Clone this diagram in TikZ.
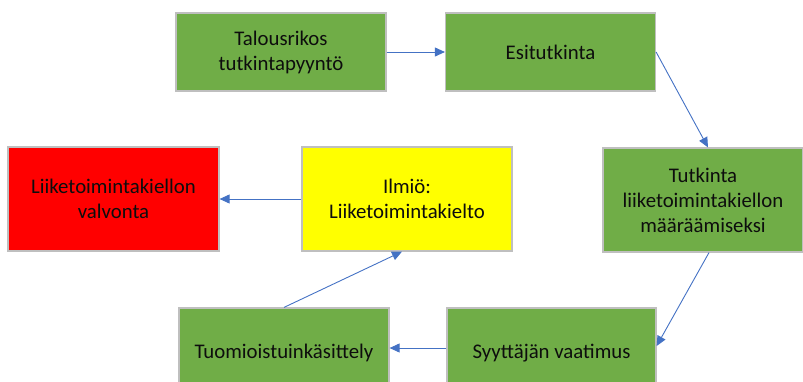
\documentclass[tikz,border=0pt]{standalone}
\usepackage{fontspec}
\setmainfont{Carlito}
\usetikzlibrary{arrows.meta,calc}
\definecolor{boxgreen}{HTML}{70AD47}
\definecolor{boxred}{HTML}{FF0000}
\definecolor{boxyellow}{HTML}{FFFF00}
\definecolor{boxborder}{HTML}{BFBFBF}
\definecolor{arrowblue}{HTML}{4472C4}
\tikzset{
  stepbox/.style={draw=boxborder, line width=1.2pt, rectangle, align=center,
    font=\fontsize{20.8}{25}\selectfont, text=black!95, inner sep=0pt},
  flow/.style={draw=arrowblue, line width=0.9pt, -{Triangle[length=10pt,width=9pt]}}
}
\begin{document}
\begin{tikzpicture}[x=1pt,y=-1pt]
\useasboundingbox (0,0) rectangle (803,381);
\node[stepbox, fill=boxgreen, minimum width=210pt, minimum height=78pt] (a) at (281,52) {Talousrikos\\tutkintapyyntö};
\node[stepbox, fill=boxgreen, minimum width=210pt, minimum height=78pt] (b) at (550.5,52) {Esitutkinta};
\node[stepbox, fill=boxgreen, minimum width=200pt, minimum height=104pt] (c) at (703,200) {Tutkinta\\liiketoimintakiellon\\määräämiseksi};
\node[stepbox, fill=boxgreen, minimum width=209pt, minimum height=90pt] (d) at (551.5,353) {Syyttäjän vaatimus};
\node[stepbox, fill=boxgreen, minimum width=210pt, minimum height=90pt] (e) at (284,353) {Tuomioistuinkäsittely};
\node[stepbox, fill=boxyellow, minimum width=210pt, minimum height=104pt] (f) at (407,199) {Ilmiö:\\Liiketoimintakielto};
\node[stepbox, fill=boxred, minimum width=211pt, minimum height=104pt] (g) at (113.5,199) {Liiketoimintakiellon\\valvonta};
\draw[flow] (a.east) -- (b.west);
\draw[flow] (b.east) -- ($(c.north)+(5,0)$);
\draw[flow] ($(c.south)+(6,0)$) -- ($(d.east)+(0,-7)$);
\draw[flow] ($(d.west)+(0,-5)$) -- ($(e.east)+(0,-5)$);
\draw[flow] (e.north) -- ($(f.south)+(-5,0)$);
\draw[flow] (f.west) -- (g.east);
\end{tikzpicture}
\end{document}
